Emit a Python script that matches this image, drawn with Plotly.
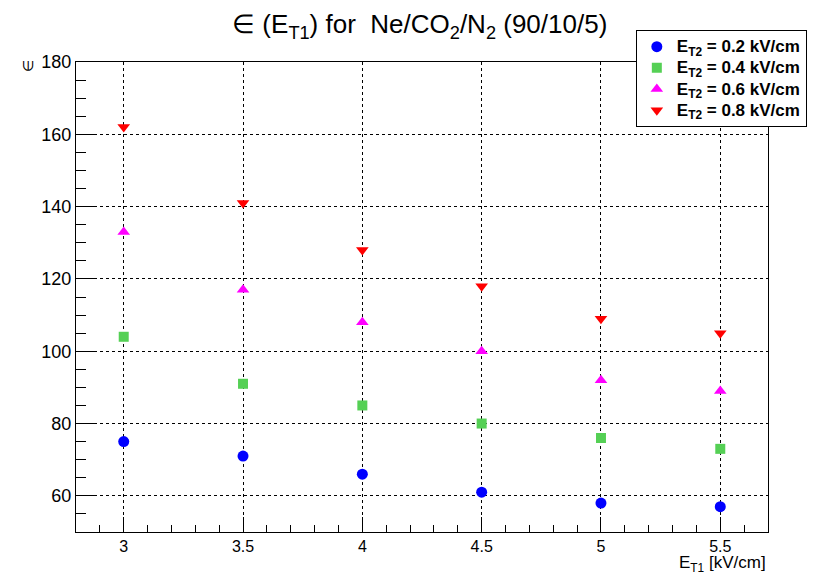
import plotly.graph_objects as go

x_vals = [3.0, 3.5, 4.0, 4.5, 5.0, 5.5]
eps_02 = [75, 71, 66, 61, 58, 57]
eps_04 = [104, 91, 85, 80, 76, 73]
eps_06 = [133, 117, 108, 100, 92, 89]
eps_08 = [162, 141, 128, 118, 109, 105]

series_names = ["E<sub>T2</sub> = 0.2 kV/cm", "E<sub>T2</sub> = 0.4 kV/cm",
                "E<sub>T2</sub> = 0.6 kV/cm", "E<sub>T2</sub> = 0.8 kV/cm"]
series_vals = [eps_02, eps_04, eps_06, eps_08]
colors = ["#0000FF", "#55D055", "#FF00FF", "#FF0000"]
symbols = ["circle", "square", "triangle-up", "triangle-down"]
sizes = [11, 10, 11, 11]

FONT = "Liberation Sans, Arial, sans-serif"

fig = go.Figure()
for name, vals, c, s, sz in zip(series_names, series_vals, colors, symbols, sizes):
    fig.add_trace(go.Scatter(x=x_vals, y=vals, mode="markers",
                             name='<b><span style="font-size:17px">' + name + "</span></b>",
                             marker=dict(color=c, symbol=s, size=sz, line=dict(width=0))))

fig.update_layout(
    width=815, height=576,
    margin=dict(l=76, r=47, t=62, b=44, autoexpand=False),
    paper_bgcolor="white", plot_bgcolor="white",
    font=dict(family=FONT, color="black"),
    title=dict(text="∈ (E<sub>T1</sub>) for  Ne/CO<sub>2</sub>/N<sub>2</sub> (90/10/5)",
               x=0.515, xanchor="center", y=0.958, yanchor="middle",
               font=dict(size=26, family=FONT, color="black")),
    showlegend=True,
    legend=dict(x=0.809, y=1.068, xanchor="left", yanchor="top",
                bgcolor="white", bordercolor="black", borderwidth=1,
                font=dict(size=14, family=FONT, color="black"),
                itemsizing="trace", tracegroupgap=0),
)

fig.update_xaxes(
    range=[2.8, 5.7], tickvals=[3, 3.5, 4, 4.5, 5, 5.5],
    ticktext=["3", "3.5", "4", "4.5", "5", "5.5"],
    ticks="inside", ticklen=15, tickwidth=1, tickcolor="black",
    tickfont=dict(size=16, family=FONT, color="black"),
    showline=True, linecolor="black", linewidth=1, mirror=True,
    showgrid=True, gridcolor="black", griddash="dot", gridwidth=1,
    zeroline=False,
    minor=dict(dtick=0.1, tick0=0, ticks="inside", ticklen=7, tickcolor="black", showgrid=False),
)
fig.update_yaxes(
    range=[50, 180], tickvals=[60, 80, 100, 120, 140, 160, 180],
    ticks="inside", ticklen=20, tickwidth=1, tickcolor="black",
    tickfont=dict(size=18, family=FONT, color="black"),
    showline=True, linecolor="black", linewidth=1, mirror=True,
    showgrid=True, gridcolor="black", griddash="dot", gridwidth=1,
    zeroline=False,
    minor=dict(dtick=5, tick0=0, ticks="inside", ticklen=10, tickcolor="black", showgrid=False),
)

fig.add_annotation(text="∈", xref="paper", yref="paper", x=-0.07, y=0.99,
                   textangle=-90, showarrow=False, xanchor="center", yanchor="middle",
                   font=dict(size=14, family=FONT, color="black"))
fig.add_annotation(text="E<sub>T1</sub> [kV/cm]", xref="paper", yref="paper", x=1.0, y=-0.069,
                   showarrow=False, xanchor="right", yanchor="middle",
                   font=dict(size=17, family=FONT, color="black"))

fig.write_html("out.html", config={"displayModeBar": False},
               post_script="document.body.style.margin='0';")
